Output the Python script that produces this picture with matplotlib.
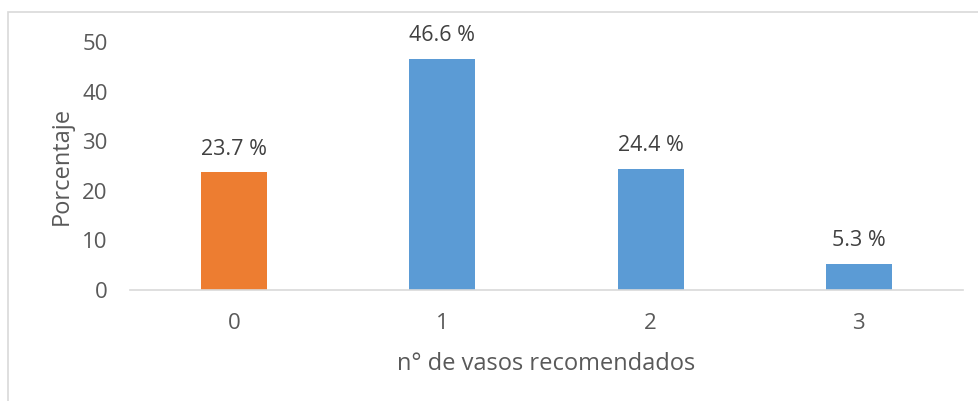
import matplotlib
matplotlib.use("Agg")
import matplotlib.pyplot as plt
from matplotlib.patches import Rectangle

categories = ["0", "1", "2", "3"]
values = [23.7, 46.6, 24.4, 5.3]
bar_colors = ["#ED7D31", "#5B9BD5", "#5B9BD5", "#5B9BD5"]
y_ticks = [0, 10, 20, 30, 40, 50]

plt.rcParams["font.family"] = ["Open Sans", "DejaVu Sans"]

W, H = 979, 401
fig = plt.figure(figsize=(W / 100, H / 100), dpi=100)
fig.patch.set_facecolor("white")

# chart-area frame
fig.add_artist(Rectangle((8 / W, -0.05), 1.2, (H - 12) / H + 0.05,
                         transform=fig.transFigure, fill=False,
                         edgecolor="#D9D9D9", linewidth=1.2))

ax = fig.add_axes([130 / W, (H - 290) / H, (963 - 130) / W, (290 - 42) / H])
x = list(range(len(categories)))
ax.bar(x, values, width=0.317, color=bar_colors, zorder=2)

for xi, v in zip(x, values):
    ax.annotate(f"{v} %", (xi, v), xytext=(0, 9), textcoords="offset points",
                ha="center", va="bottom", fontsize=15.5, color="#404040")

ax.set_xlim(-0.5, 3.5)
ax.set_ylim(0, 50)
ax.set_xticks(x)
ax.set_xticklabels(categories)
ax.set_yticks(y_ticks)

for s in ["top", "right", "left"]:
    ax.spines[s].set_visible(False)
ax.spines["bottom"].set_color("#D9D9D9")
ax.spines["bottom"].set_linewidth(1.2)

ax.tick_params(axis="both", length=0, labelsize=16, colors="#595959")
ax.tick_params(axis="x", pad=16.5)
ax.tick_params(axis="y", pad=16)

ax.set_ylabel("Porcentaje", fontsize=17, color="#595959", labelpad=6)
ax.set_xlabel("n° de vasos recomendados", fontsize=17, color="#595959", labelpad=13)

fig.savefig("out.png", dpi=100)
